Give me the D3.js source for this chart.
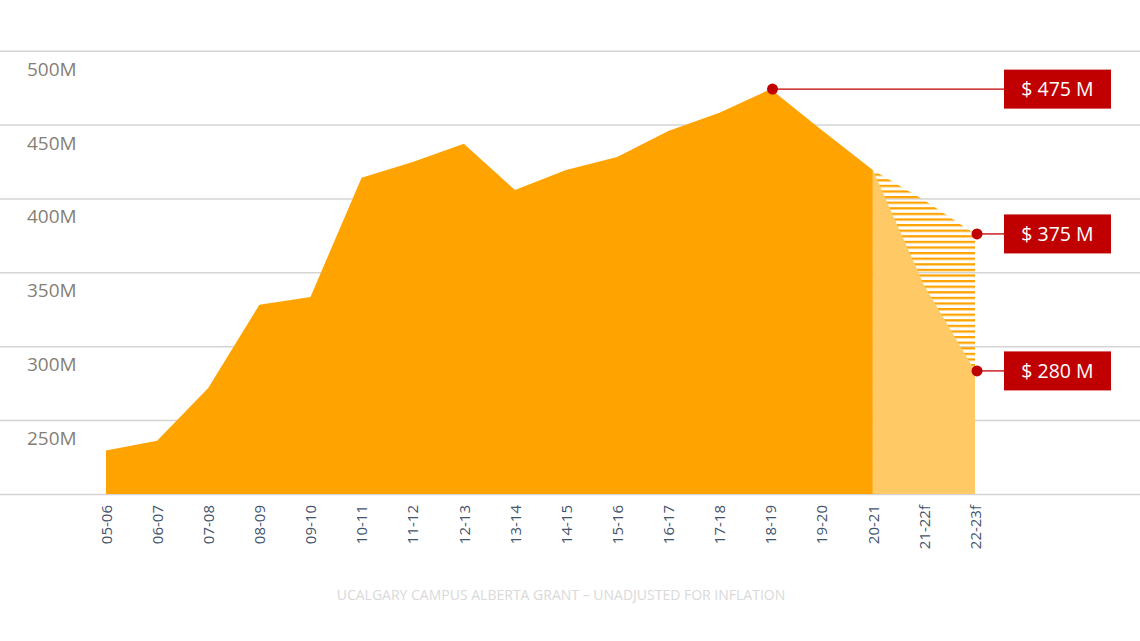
<!DOCTYPE html>
<html>
<head>
<meta charset="utf-8">
<script src="https://cdn.jsdelivr.net/npm/d3@7"></script>
<style>
  html, body { margin: 0; padding: 0; background: #fff; }
  svg { display: block; font-family: "Open Sans", sans-serif; }
</style>
</head>
<body>
<svg id="chart"></svg>
<script>
// grant in millions
const years = ["05-06", "06-07", "07-08", "08-09", "09-10", "10-11", "11-12", "12-13",
               "13-14", "14-15", "15-16", "16-17", "17-18", "18-19", "19-20", "20-21",
               "21-22f", "22-23f"];
const actual = [229.4, 236, 271.8, 328, 333.4, 414, 424.7, 437, 405.8, 419.3, 428,
                445.7, 458, 474, 446.3, 419.3];
const forecastYears = ["20-21", "21-22f", "22-23f"];
const forecastHigh = [419.3, 399, 376];
const forecastLow = [419.3, 341.5, 283.3];
const yTicks = [500, 450, 400, 350, 300, 250, 200];
const calloutLabels = ["$ 475 M", "$ 375 M", "$ 280 M"];
const title = "UCALGARY CAMPUS ALBERTA GRANT \u2013 UNADJUSTED FOR INFLATION";

const width = 1140, height = 641;
const orange = "#ffa300", lightOrange = "#ffc966", red = "#c00000";

const svg = d3.select("#chart").attr("width", width).attr("height", height);

const x = d3.scalePoint().domain(years).range([106, 975]);
const y = d3.scaleLinear().domain([200, 500]).range([494, 50.7]);

// gridlines across the whole width
svg.append("g")
  .call(d3.axisRight(y).tickValues(yTicks).tickSize(width).tickFormat(""))
  .call(g => g.select(".domain").remove())
  .call(g => g.selectAll("line").attr("stroke", "#d4d4d4").attr("stroke-width", 1.5));

// hatch pattern for the forecast range
const defs = svg.append("defs");
defs.append("pattern")
  .attr("id", "hatch")
  .attr("patternUnits", "userSpaceOnUse")
  .attr("width", 10).attr("height", 5.6)
  .append("rect")
  .attr("y", 0).attr("width", 10).attr("height", 2.3)
  .attr("fill", orange);

const area = d3.area()
  .x(d => x(d[0]))
  .y0(y(200))
  .y1(d => y(d[1]));

svg.append("path")
  .datum(d3.zip(forecastYears, forecastHigh))
  .attr("d", area)
  .attr("fill", "url(#hatch)");

svg.append("path")
  .datum(d3.zip(forecastYears, forecastLow))
  .attr("d", area)
  .attr("fill", lightOrange);

svg.append("path")
  .datum(d3.zip(years.slice(0, actual.length), actual))
  .attr("d", area)
  .attr("fill", orange);

// y labels sit just under their gridline
svg.append("g")
  .selectAll("text")
  .data(yTicks.slice(0, -1))
  .join("text")
  .attr("x", 27)
  .attr("y", d => y(d) + 25)
  .attr("fill", "#857f76")
  .attr("font-size", 19)
  .text(d => d + "M");

// x labels, rotated
svg.append("g")
  .attr("transform", `translate(0,${y(200)})`)
  .call(d3.axisBottom(x).tickSize(0).tickPadding(0))
  .call(g => g.select(".domain").remove())
  .call(g => g.selectAll("text")
    .attr("font-family", "Open Sans, sans-serif")
    .attr("font-size", 15)
    .attr("fill", "#44546a")
    .attr("text-anchor", "end")
    .attr("transform", "rotate(-90)")
    .attr("x", -11)
    .attr("y", 0)
    .attr("dy", "0.35em"));

// callouts
const callouts = [
  { year: years[13], value: actual[13], label: calloutLabels[0] },
  { year: forecastYears[2], value: forecastHigh[2], label: calloutLabels[1] },
  { year: forecastYears[2], value: forecastLow[2], label: calloutLabels[2] }
];
const boxX = 1004, boxW = 107, boxH = 39;

const c = svg.append("g").selectAll("g").data(callouts).join("g");
c.append("line")
  .attr("x1", d => x(d.year) + 2)
  .attr("x2", boxX)
  .attr("y1", d => y(d.value))
  .attr("y2", d => y(d.value))
  .attr("stroke", red)
  .attr("stroke-width", 1.3);
c.append("circle")
  .attr("cx", d => x(d.year) + 2)
  .attr("cy", d => y(d.value))
  .attr("r", 5.5)
  .attr("fill", red);
c.append("rect")
  .attr("x", boxX)
  .attr("y", d => y(d.value) - boxH / 2)
  .attr("width", boxW)
  .attr("height", boxH)
  .attr("fill", red);
c.append("text")
  .attr("x", boxX + boxW / 2)
  .attr("y", d => y(d.value) + 7)
  .attr("text-anchor", "middle")
  .attr("fill", "#fff")
  .attr("font-size", 19.5)
  .text(d => d.label);

svg.append("text")
  .attr("x", 561)
  .attr("y", 600)
  .attr("text-anchor", "middle")
  .attr("fill", "#d9d9d9")
  .attr("font-size", 14)
  .text(title);
</script>
</body>
</html>
